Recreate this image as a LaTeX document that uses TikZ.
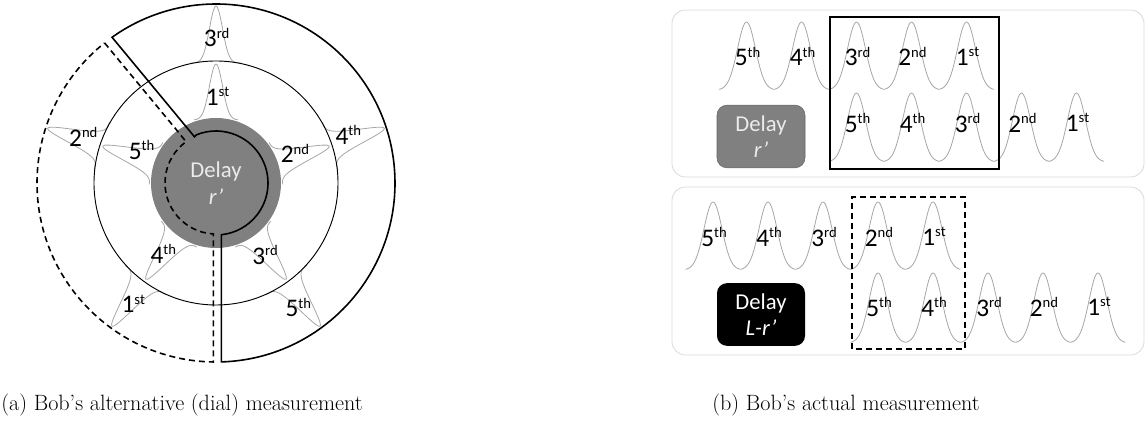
\documentclass[tikz,border=0pt]{standalone}
\usepackage{fontspec}
\newfontfamily\calibri{Carlito}
\usetikzlibrary{calc}

\newcommand{\ordlabel}[2]{#1\raisebox{6.5pt}{\fontsize{11}{11}\selectfont #2}}

\tikzset{
  pulse/.style={draw=black!35, line width=0.6pt},
  bound/.style={line width=1.2pt, line join=miter},
  dashbound/.style={line width=1.2pt, dash pattern=on 4.5pt off 3pt},
  lbl/.style={font=\calibri\fontsize{19}{19}\selectfont, inner sep=0pt},
  panel/.style={draw=black!15, line width=0.6pt, rounded corners=10pt},
  delaybox/.style={rounded corners=7.5pt, minimum width=66pt, minimum height=47pt,
    align=center, inner sep=0pt, font=\calibri\fontsize{17}{19}\selectfont},
  disk/.style={circle, fill=black!50, minimum size=97.5pt, inner sep=0pt, text=black!8,
    align=center, font=\calibri\fontsize{17}{20}\selectfont},
  capt/.style={anchor=base west, inner sep=0pt, font=\fontsize{16.6}{20}\selectfont},
}

\begin{document}
\begin{tikzpicture}[x=0.75pt, y=0.75pt]
  \useasboundingbox (0,0) rectangle (1146,424);

  % (a) dial
  \begin{scope}[shift={(216,241)}]
    \foreach \a in {90,18,-54,-126,162}{
      \draw[pulse, rotate=\a] plot[domain=-22:22, samples=45] ({63+56*exp(-\x*\x/84.5)}, {\x});
      \draw[pulse, rotate=\a] plot[domain=-25:25, samples=45] ({120+57*exp(-\x*\x/84.5)}, {\x});
    }
    \draw[line width=0.7pt] (0,0) circle [radius=122];
  \end{scope}

  \node[disk] (disk) at (216,241) {Delay\\ {\itshape r’}};

  \begin{scope}[shift={(216,241)}]
    \draw[bound] (125.5:179) -- (115:51) -- (112:52) arc[start angle=112, end angle=-84, radius=52]
      -- (-88.27:179) arc[start angle=-88.27, end angle=125.5, radius=179] -- cycle;
    \draw[dashbound] (128.5:179) -- (-36.2,49.1) -- (126:51) arc[start angle=126, end angle=267, radius=51]
      -- (269.15:179) arc[start angle=269.15, end angle=128.5, radius=179] -- cycle;
  \end{scope}

  \node[lbl] (in1) at (217.5,327.3) {\ordlabel{1}{st}};
  \node[lbl] (in2) at (295,270.7) {\ordlabel{2}{nd}};
  \node[lbl] (in3) at (265,169) {\ordlabel{3}{rd}};
  \node[lbl] (in4) at (163.3,170) {\ordlabel{4}{th}};
  \node[lbl] (in5) at (141.5,274) {\ordlabel{5}{th}};
  \node[lbl] (out1) at (133.3,120) {\ordlabel{1}{st}};
  \node[lbl] (out2) at (83.3,287.3) {\ordlabel{2}{nd}};
  \node[lbl] (out3) at (216.7,386.5) {\ordlabel{3}{rd}};
  \node[lbl] (out4) at (348.3,289) {\ordlabel{4}{th}};
  \node[lbl] (out5) at (298.3,116.5) {\ordlabel{5}{th}};

  % (b) actual
  \draw[panel] (672,247) rectangle (1144,414);
  \draw[panel] (672,69) rectangle (1144,237);

  \foreach \px in {746.5,801.5,856.5,911.5,966.5}
    \draw[pulse] plot[domain=-27.5:27.5, samples=55] ({\px+\x}, {334+68*exp(-\x*\x/162)});
  \foreach \px in {856.5,911.5,966.5,1021.5,1076.5}
    \draw[pulse] plot[domain=-27.5:27.5, samples=55] ({\px+\x}, {262+69*exp(-\x*\x/162)});
  \foreach \px in {713,768,823,878,933}
    \draw[pulse] plot[domain=-27.5:27.5, samples=55] ({\px+\x}, {154+68*exp(-\x*\x/162)});
  \foreach \px in {878,933,988,1043,1098}
    \draw[pulse] plot[domain=-27.5:27.5, samples=55] ({\px+\x}, {81+70*exp(-\x*\x/162)});

  \node[delaybox, fill=black!50, draw=black!60, text=black!8] (dlyA) at (761,287.5) {Delay\\ {\itshape r’}};
  \node[delaybox, fill=black, text=white] (dlyB) at (761,109.5) {Delay\\ {\itshape L-r’}};

  \draw[line width=1.1pt] (830,255) rectangle (999,407);
  \draw[line width=1.1pt, dash pattern=on 4.5pt off 3pt] (852,75) rectangle (965,227);

  \node[lbl] (t5) at (747.5,367.5) {\ordlabel{5}{th}};
  \node[lbl] (t4) at (802.5,367.5) {\ordlabel{4}{th}};
  \node[lbl] (t3) at (857.5,367.5) {\ordlabel{3}{rd}};
  \node[lbl] (t2) at (912.5,367.5) {\ordlabel{2}{nd}};
  \node[lbl] (t1) at (967.5,367.5) {\ordlabel{1}{st}};
  \node[lbl] (s5) at (857.5,301.3) {\ordlabel{5}{th}};
  \node[lbl] (s4) at (912.5,301.3) {\ordlabel{4}{th}};
  \node[lbl] (s3) at (967.5,301.3) {\ordlabel{3}{rd}};
  \node[lbl] (s2) at (1022.5,301.3) {\ordlabel{2}{nd}};
  \node[lbl] (s1) at (1077.5,301.3) {\ordlabel{1}{st}};

  \node[lbl] (u5) at (714,187.3) {\ordlabel{5}{th}};
  \node[lbl] (u4) at (769,187.3) {\ordlabel{4}{th}};
  \node[lbl] (u3) at (824,187.3) {\ordlabel{3}{rd}};
  \node[lbl] (u2) at (879,187.3) {\ordlabel{2}{nd}};
  \node[lbl] (u1) at (934,187.3) {\ordlabel{1}{st}};
  \node[lbl] (v5) at (879,117.3) {\ordlabel{5}{th}};
  \node[lbl] (v4) at (934,117.3) {\ordlabel{4}{th}};
  \node[lbl] (v3) at (989,117.3) {\ordlabel{3}{rd}};
  \node[lbl] (v2) at (1044,117.3) {\ordlabel{2}{nd}};
  \node[lbl] (v1) at (1099,117.3) {\ordlabel{1}{st}};

  \node[capt] (capA) at (1,13) {(a) Bob's alternative (dial) measurement};
  \node[capt] (capB) at (712,13) {(b) Bob's actual measurement};
\end{tikzpicture}
\end{document}
